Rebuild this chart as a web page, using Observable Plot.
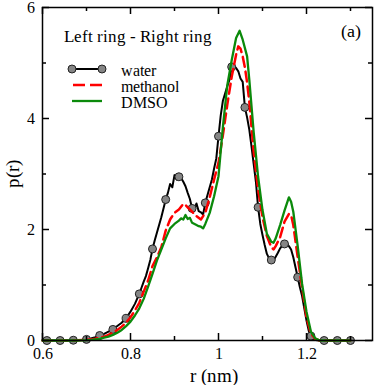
<!DOCTYPE html>
<html>
<head>
<meta charset="utf-8">
<script src="https://cdn.jsdelivr.net/npm/d3@7"></script>
<script src="https://cdn.jsdelivr.net/npm/@observablehq/plot@0.6"></script>
<style>
@font-face { font-family: "ChartSerif"; src: local("Liberation Serif"), local("LiberationSerif"), local("LiberationSerif-Regular"); }
body { margin: 0; }
svg text { font-family: "ChartSerif", "Liberation Serif", serif !important; }
</style>
</head>
<body>
<div id="chart"></div>
<script>
// ---- data ----
const waterR = [0.60,0.61,0.62,0.63,0.64,0.65,0.66,0.67,0.68,0.69,0.70,0.71,0.72,0.73,0.74,0.75,0.76,0.77,0.78,0.79,0.80,0.81,0.82,0.825,0.83,0.835,0.84,0.845,0.85,0.855,0.86,0.865,0.87,0.875,0.88,0.885,0.89,0.895,0.90,0.905,0.91,0.915,0.92,0.925,0.93,0.935,0.94,0.945,0.95,0.955,0.96,0.965,0.97,0.975,0.98,0.985,0.99,0.995,1.00,1.005,1.01,1.015,1.02,1.025,1.03,1.035,1.04,1.045,1.05,1.055,1.06,1.065,1.07,1.075,1.08,1.085,1.09,1.095,1.10,1.105,1.11,1.115,1.12,1.125,1.13,1.135,1.14,1.145,1.15,1.155,1.16,1.165,1.17,1.175,1.18,1.185,1.19,1.195,1.20,1.205,1.21,1.215,1.22,1.23,1.24,1.25,1.26,1.27,1.28,1.29,1.30];
const waterP = [0,0,0,0,0,0,0,0.005,0.008,0.012,0.02,0.035,0.06,0.09,0.12,0.16,0.20,0.26,0.32,0.40,0.52,0.66,0.84,0.95,1.06,1.16,1.30,1.45,1.65,1.80,1.94,2.08,2.22,2.38,2.54,2.66,2.82,2.76,2.98,2.90,2.95,2.93,2.86,2.78,2.66,2.55,2.38,2.36,2.47,2.33,2.31,2.27,2.48,2.62,2.76,2.90,3.10,3.28,3.68,4.05,4.32,4.45,4.58,4.70,4.93,4.94,4.91,4.85,4.72,4.66,4.20,4.02,3.80,3.50,3.18,2.86,2.40,2.10,1.90,1.72,1.56,1.48,1.45,1.44,1.51,1.58,1.66,1.71,1.74,1.74,1.70,1.64,1.50,1.32,1.14,0.96,0.80,0.58,0.36,0.18,0.08,0.03,0.01,0,0,0,0,0,0,0,0];
const waterMarkR = [0.61,0.64,0.67,0.70,0.73,0.76,0.79,0.82,0.85,0.88,0.91,0.94,0.97,1.00,1.03,1.06,1.09,1.12,1.15,1.18,1.21,1.24,1.27,1.30];

const methR = [0.60,0.62,0.64,0.66,0.68,0.70,0.71,0.72,0.73,0.74,0.75,0.76,0.77,0.78,0.79,0.80,0.81,0.82,0.83,0.84,0.85,0.86,0.87,0.88,0.89,0.90,0.91,0.92,0.925,0.93,0.94,0.95,0.96,0.97,0.98,0.99,1.00,1.01,1.02,1.03,1.04,1.045,1.05,1.055,1.06,1.065,1.07,1.075,1.08,1.09,1.10,1.11,1.12,1.125,1.13,1.14,1.15,1.16,1.165,1.17,1.18,1.19,1.20,1.21,1.22,1.23,1.25,1.27,1.30];
const methP = [0,0,0,0,0.005,0.01,0.02,0.03,0.05,0.07,0.10,0.14,0.19,0.25,0.32,0.42,0.54,0.68,0.88,1.08,1.34,1.50,1.68,1.98,2.18,2.30,2.36,2.46,2.44,2.40,2.32,2.24,2.18,2.30,2.58,2.90,3.20,3.70,4.25,4.75,5.15,5.30,5.26,5.12,4.92,4.65,4.30,3.85,3.40,2.72,2.22,1.88,1.68,1.64,1.70,1.86,2.14,2.28,2.26,2.08,1.50,0.95,0.42,0.12,0.03,0,0,0,0];

const dmsoR = [0.60,0.62,0.64,0.66,0.68,0.70,0.71,0.72,0.73,0.74,0.75,0.76,0.77,0.78,0.79,0.80,0.81,0.82,0.83,0.84,0.85,0.86,0.87,0.88,0.89,0.90,0.91,0.915,0.92,0.925,0.93,0.935,0.94,0.95,0.955,0.96,0.965,0.97,0.98,0.99,1.00,1.01,1.02,1.03,1.04,1.048,1.055,1.065,1.07,1.08,1.09,1.10,1.11,1.12,1.125,1.13,1.14,1.15,1.16,1.165,1.17,1.18,1.19,1.20,1.21,1.22,1.23,1.25,1.27,1.30];
const dmsoP = [0,0,0,0,0,0.005,0.01,0.02,0.03,0.05,0.07,0.10,0.14,0.19,0.26,0.34,0.45,0.58,0.75,0.97,1.20,1.44,1.64,1.84,2.02,2.10,2.16,2.20,2.18,2.26,2.19,2.21,2.12,2.08,2.06,2.05,2.02,2.10,2.30,2.60,2.96,3.85,4.60,5.05,5.45,5.58,5.42,5.12,4.70,3.75,2.95,2.35,1.92,1.78,1.76,1.84,2.08,2.34,2.58,2.50,2.32,1.70,1.02,0.52,0.16,0.04,0,0,0,0];

const xLabelTicks = [0.6, 0.8, 1, 1.2];
const xMinorTicks = [0.7, 0.9, 1.1, 1.3];
const yMajorTicks = [0, 2, 4, 6];
const yMinorTicks = [1, 3, 5];

const seriesNames = ["water", "methanol", "DMSO"];
const titleText = ["Left ring - Right ring"];
const panelText = ["(a)"];
const xLabel = ["r (nm)"];
const yLabel = ["p(r)"];

// ---- build ----
const water = waterR.map((r, i) => ({r, p: waterP[i]}));
const meth = methR.map((r, i) => ({r, p: methP[i]}));
const dmso = dmsoR.map((r, i) => ({r, p: dmsoP[i]}));
const waterMarks = water.filter(d => waterMarkR.some(m => Math.abs(m - d.r) < 1e-6));

const W = 376, H = 385;
const mL = 42, mR = 4, mT = 7, mB = 45;
const innerW = W - mL - mR, innerH = H - mT - mB;
const FF = "ChartSerif, Liberation Serif, serif";
const GREEN = "#0b8a0b";
const RED = "#ff0000";
const MARK_FILL = "#858585";
const txt = (data, opts) => Plot.text(data, {text: d => d, fontFamily: FF, fill: "black", textAnchor: "start", lineAnchor: "bottom", ...opts});

const plot = Plot.plot({
  width: W, height: H,
  marginLeft: mL, marginRight: mR, marginTop: mT, marginBottom: mB,
  x: {domain: [0.6, 1.35]},
  y: {domain: [0, 6]},
  style: {fontFamily: FF, fontSize: "16px"},
  marks: [
    Plot.line(water, {x: "r", y: "p", stroke: "black", strokeWidth: 2}),
    Plot.dot(waterMarks, {x: "r", y: "p", r: 4, fill: MARK_FILL, stroke: "#222", strokeWidth: 1}),
    Plot.line(meth, {x: "r", y: "p", stroke: RED, strokeWidth: 2.5, strokeDasharray: "10,5"}),
    Plot.line(dmso, {x: "r", y: "p", stroke: GREEN, strokeWidth: 2.3}),
    Plot.tickX(xLabelTicks, {x: d => d, insetTop: innerH - 7, stroke: "black", strokeWidth: 1.5}),
    Plot.tickX(xMinorTicks, {x: d => d, insetTop: innerH - 4, stroke: "black", strokeWidth: 1.5}),
    Plot.tickX(xLabelTicks, {x: d => d, insetBottom: innerH - 7, stroke: "black", strokeWidth: 1.5}),
    Plot.tickX(xMinorTicks, {x: d => d, insetBottom: innerH - 4, stroke: "black", strokeWidth: 1.5}),
    Plot.tickY(yMajorTicks, {y: d => d, insetRight: innerW - 7, stroke: "black", strokeWidth: 1.5}),
    Plot.tickY(yMinorTicks, {y: d => d, insetRight: innerW - 4, stroke: "black", strokeWidth: 1.5}),
    Plot.tickY(yMajorTicks, {y: d => d, insetLeft: innerW - 7, stroke: "black", strokeWidth: 1.5}),
    Plot.tickY(yMinorTicks, {y: d => d, insetLeft: innerW - 4, stroke: "black", strokeWidth: 1.5}),
    Plot.axisX({ticks: xLabelTicks, tickSize: 0, tickPadding: 7, label: null, fontSize: 16, fontFamily: FF, fontVariant: "normal", fill: "black", tickFormat: d => String(d)}),
    Plot.axisY({ticks: yMajorTicks, tickSize: 0, tickPadding: 8, label: null, fontSize: 16, fontFamily: FF, fontVariant: "normal", fill: "black", tickFormat: d => String(d)}),
    Plot.frame({stroke: "black", strokeWidth: 1.5}),
    txt(xLabel, {frameAnchor: "bottom", textAnchor: "middle", dx: 6, dy: 41, fontSize: 19}),
    txt(yLabel, {frameAnchor: "left", textAnchor: "middle", rotate: -90, dx: -24, dy: 0, fontSize: 19}),
    txt(titleText, {frameAnchor: "top-left", dx: 21, dy: 34, fontSize: 16.5}),
    txt(panelText, {frameAnchor: "top-left", dx: 298, dy: 29, fontSize: 18}),
    ...seriesNames.map((n, i) => txt([n], {frameAnchor: "top-left", dx: 78, dy: 68 + 16 * i, fontSize: 16}))
  ]
});

document.getElementById("chart").appendChild(plot);

// legend symbols
const svg = d3.select(plot);
const lg = svg.append("g");
const rows = [69, 85, 101];
lg.append("line").attr("x1", 72).attr("x2", 102).attr("y1", rows[0]).attr("y2", rows[0])
  .attr("stroke", "black").attr("stroke-width", 2);
[72, 102].forEach(cx => lg.append("circle").attr("cx", cx).attr("cy", rows[0]).attr("r", 4)
  .attr("fill", MARK_FILL).attr("stroke", "#222").attr("stroke-width", 1));
lg.append("line").attr("x1", 73).attr("x2", 102).attr("y1", rows[1]).attr("y2", rows[1])
  .attr("stroke", RED).attr("stroke-width", 2.5).attr("stroke-dasharray", "12,5");
lg.append("line").attr("x1", 72).attr("x2", 102).attr("y1", rows[2]).attr("y2", rows[2])
  .attr("stroke", GREEN).attr("stroke-width", 2.3);
</script>
</body>
</html>
